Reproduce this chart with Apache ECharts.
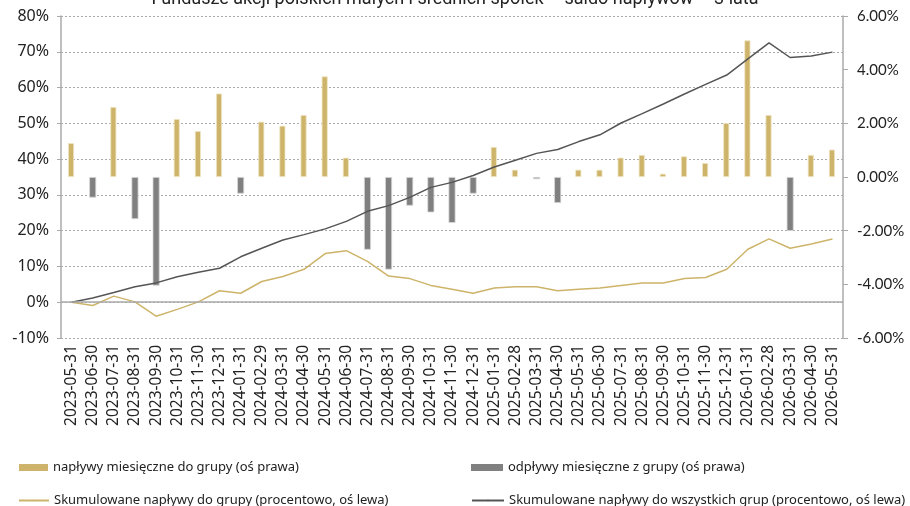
<!DOCTYPE html>
<html>
<head>
<meta charset="utf-8">
<script src="https://cdn.jsdelivr.net/npm/echarts@6/dist/echarts.min.js"></script>
<style>
  html, body { margin: 0; padding: 0; background: #fff; }
  #chart { width: 910px; height: 506px; }
</style>
</head>
<body>
<div id="chart"></div>
<script>
// miesiące
const dates = [
  '2023-05-31','2023-06-30','2023-07-31','2023-08-31','2023-09-30','2023-10-31','2023-11-30','2023-12-31',
  '2024-01-31','2024-02-29','2024-03-31','2024-04-30','2024-05-31','2024-06-30','2024-07-31','2024-08-31',
  '2024-09-30','2024-10-31','2024-11-30','2024-12-31','2025-01-31','2025-02-28','2025-03-31','2025-04-30',
  '2025-05-31','2025-06-30','2025-07-31','2025-08-31','2025-09-30','2025-10-31','2025-11-30','2025-12-31',
  '2026-01-31','2026-02-28','2026-03-31','2026-04-30','2026-05-31'
];

// saldo miesięczne (oś prawa, %)
const monthlyFlow = [
  1.26, -0.77, 2.61, -1.57, -4.05, 2.16, 1.71, 3.11,
  -0.62, 2.06, 1.91, 2.31, 3.75, 0.72, -2.71, -3.45,
  -1.07, -1.32, -1.71, -0.62, 1.12, 0.27, -0.08, -0.97,
  0.27, 0.27, 0.72, 0.82, 0.12, 0.77, 0.52, 2.01,
  5.09, 2.31, -2.01, 0.82, 1.02
];

// skumulowane napływy do grupy (oś lewa, %)
const cumGroup = [
  0.0, -0.9, 1.7, 0.1, -3.9, -2.0, 0.1, 3.2,
  2.5, 5.8, 7.2, 9.2, 13.6, 14.4, 11.4, 7.3,
  6.6, 4.7, 3.6, 2.5, 4.0, 4.3, 4.3, 3.2,
  3.6, 4.0, 4.7, 5.4, 5.4, 6.6, 6.9, 9.2,
  14.8, 17.7, 15.1, 16.3, 17.7
];

// skumulowane napływy do wszystkich grup (oś lewa, %)
const cumAll = [
  0.0, 1.2, 2.7, 4.3, 5.4, 7.1, 8.4, 9.5,
  12.7, 15.1, 17.4, 18.9, 20.5, 22.6, 25.4, 27.0,
  29.3, 32.1, 33.5, 35.4, 37.8, 39.7, 41.6, 42.7,
  44.9, 46.8, 50.1, 52.7, 55.4, 58.2, 60.9, 63.5,
  68.0, 72.5, 68.4, 68.8, 69.9
];

const names = [
  'napływy miesięczne do grupy (oś prawa)',
  'odpływy miesięczne z grupy (oś prawa)',
  'Skumulowane napływy do grupy (procentowo, oś lewa)',
  'Skumulowane napływy do wszystkich grup (procentowo, oś lewa)'
];

const gold = '#cdb46a';
const grey = '#808080';
const dark = '#555555';

const inflows = monthlyFlow.map(v => v > 0 ? v : '-');
const outflows = monthlyFlow.map(v => v < 0 ? v : '-');

const chart = echarts.init(document.getElementById('chart'), null, { renderer: 'canvas' });

const legendText = { fontFamily: 'Noto Sans', fontSize: 13, color: '#222' };
const flatIcon = { borderWidth: 0 };

const option = {
  animation: false,
  title: {
    text: 'Fundusze akcji polskich małych i średnich spółek – saldo napływów – 3 lata',
    left: 'center',
    top: -15,
    textStyle: { fontFamily: 'Roboto', fontSize: 18, fontWeight: 'normal', color: '#222' }
  },
  legend: [
    { data: [{ name: names[0], icon: 'rect' }], left: 14, top: 456, itemWidth: 29, itemHeight: 7, itemGap: 0, itemStyle: flatIcon, textStyle: legendText },
    { data: [{ name: names[1], icon: 'rect' }], left: 466, top: 456, itemWidth: 32, itemHeight: 7, itemGap: 0, itemStyle: flatIcon, textStyle: legendText },
    { data: [names[2]], left: 13, top: 489, itemWidth: 30, itemHeight: 2, itemGap: 0, textStyle: legendText },
    { data: [names[3]], left: 466, top: 489, itemWidth: 32, itemHeight: 2, itemGap: 0, textStyle: legendText }
  ],
  grid: { left: 61, right: 67, top: 16, bottom: 168 },
  xAxis: {
    type: 'category',
    data: dates,
    boundaryGap: true,
    axisLine: { show: false, onZero: false },
    axisTick: { show: false },
    axisLabel: {
      rotate: 90,
      interval: 0,
      margin: 7,
      fontFamily: 'Noto Sans',
      fontSize: 15.5,
      color: '#222'
    }
  },
  yAxis: [
    {
      type: 'value',
      min: -10,
      max: 80,
      interval: 10,
      axisLine: { show: true, lineStyle: { color: '#aaa', width: 1.5 } },
      axisTick: { show: true, length: 4, lineStyle: { color: '#aaa' } },
      axisLabel: {
        formatter: v => v + '%',
        margin: 12,
        fontFamily: 'Noto Sans',
        fontSize: 16,
        color: '#222'
      },
      splitLine: { show: true, lineStyle: { color: '#aaa', type: [2, 2], width: 1 } }
    },
    {
      type: 'value',
      min: -6,
      max: 6,
      interval: 2,
      position: 'right',
      axisLine: { show: true, lineStyle: { color: '#aaa', width: 1.5 } },
      axisTick: { show: true, length: 5, lineStyle: { color: '#aaa' } },
      axisLabel: {
        formatter: v => v.toFixed(2) + '%',
        margin: 14,
        fontFamily: 'Lato',
        fontSize: 15,
        color: '#222'
      },
      splitLine: { show: false }
    }
  ],
  series: [
    {
      name: names[0],
      type: 'bar',
      yAxisIndex: 1,
      data: inflows,
      barWidth: 6,
      barGap: '-100%',
      itemStyle: { color: gold, borderColor: '#efe4c2', borderWidth: 0.8 }
    },
    {
      name: names[1],
      type: 'bar',
      yAxisIndex: 1,
      data: outflows,
      barWidth: 7,
      itemStyle: { color: grey, borderColor: '#d8d8d8', borderWidth: 0.8 }
    },
    {
      name: names[2],
      type: 'line',
      yAxisIndex: 0,
      data: cumGroup,
      symbol: 'none',
      lineStyle: { color: gold, width: 1.5 },
      itemStyle: { color: gold },
      markLine: {
        silent: true,
        symbol: 'none',
        label: { show: false },
        lineStyle: { color: '#aaa', type: 'solid', width: 1.5 },
        data: [{ yAxis: 0 }]
      }
    },
    {
      name: names[3],
      type: 'line',
      yAxisIndex: 0,
      data: cumAll,
      symbol: 'none',
      lineStyle: { color: dark, width: 1.5 },
      itemStyle: { color: dark }
    }
  ]
};

chart.setOption(option);
</script>
</body>
</html>
